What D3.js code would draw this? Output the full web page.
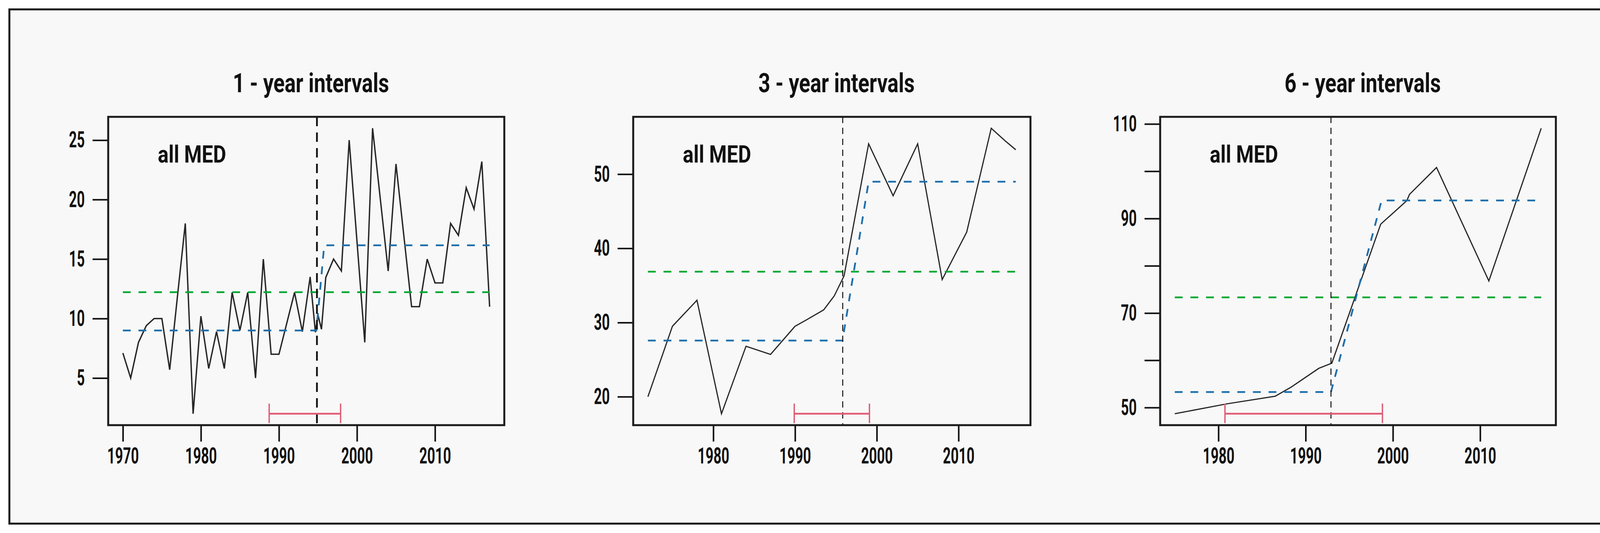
<!DOCTYPE html>
<html>
<head>
<meta charset="utf-8">
<script src="https://cdn.jsdelivr.net/npm/d3@7"></script>
<style>
  html, body { margin: 0; padding: 0; background: #fff; }
  svg text { font-family: Roboto, "DejaVu Sans", sans-serif; fill: #111; }
</style>
</head>
<body>
<div id="chart"></div>
<script>
// panel titles and the region label
const titles = ["1 - year intervals", "3 - year intervals", "6 - year intervals"];
const regionLabel = "all MED";

// 1-year series
const years1 = [1970, 1971, 1972, 1973, 1974, 1975, 1976, 1977, 1978, 1979,
                1980, 1981, 1982, 1983, 1984, 1985, 1986, 1987, 1988, 1989,
                1990, 1991, 1992, 1993, 1994, 1994.67, 1995, 1995.45, 1996, 1997,
                1998, 1999, 2000, 2001, 2002, 2003, 2004, 2005, 2006, 2007,
                2008, 2009, 2010, 2011, 2012, 2013, 2014, 2015, 2016, 2017];
const values1 = [7.1, 5.0, 8.0, 9.4, 10.0, 10.0, 5.7, 11.9, 18.0, 2.0,
                 10.2, 5.8, 8.9, 5.8, 12.2, 9.0, 12.2, 5.0, 15.0, 7.0,
                 7.0, 9.6, 12.2, 8.9, 13.5, 8.85, 10.3, 9.1, 13.45, 15.0,
                 14.0, 25.0, 16.5, 8.0, 26.0, 20.0, 14.0, 23.0, 17.0, 11.0,
                 11.0, 15.0, 13.0, 13.0, 18.0, 17.0, 21.0, 19.2, 23.2, 11.0];

// 3-year series
const years3 = [1972, 1975, 1978, 1981, 1984, 1987, 1990, 1991.3, 1993.5, 1994.8,
                1996, 1999, 2002, 2005, 2008, 2011, 2014, 2015.7, 2017];
const values3 = [20.0, 29.5, 33.0, 17.7, 26.8, 25.7, 29.5, 30.3, 31.7, 33.6,
                 36.3, 54.1, 47.1, 54.1, 35.8, 42.2, 56.2, 54.5, 53.3];

// 6-year series
const years6 = [1975, 1981, 1986.5, 1988.4, 1991.5, 1993, 1998.6, 2001.6, 2001.9, 2005, 2011, 2017];
const values6 = [48.7, 50.8, 52.4, 54.4, 58.3, 59.4, 88.8, 93.8, 95.1, 100.8, 76.8, 109.1];

// overall mean (green) per panel
const overallMean = [12.22, 36.86, 73.31];

// step-change fit (blue) per panel
const stepX = [[1970, 1994.8, 1995.8, 2017],
               [1972, 1995.8, 1999.0, 2017],
               [1975, 1992.9, 1998.7, 2017]];
const stepY = [[9.0, 9.0, 16.16, 16.16],
               [27.57, 27.57, 48.99, 48.99],
               [53.29, 53.29, 93.82, 93.82]];

// change point and its interval
const changeYear = [1994.87, 1995.83, 1992.9];
const intervalLow = [1988.75, 1989.9, 1980.75];
const intervalHigh = [1997.9, 1999.1, 1998.8];

// axis ticks
const xTicks = [[1970, 1980, 1990, 2000, 2010],
                [1980, 1990, 2000, 2010],
                [1980, 1990, 2000, 2010]];
const yTicks = [[5, 10, 15, 20, 25],
                [20, 30, 40, 50],
                [50, 60, 70, 80, 90, 100, 110]];
const yTickLabels = [[5, 10, 15, 20, 25],
                     [20, 30, 40, 50],
                     [50, 70, 90, 110]];

const W = 4120, H = 1364;
const boxLeft = [277, 1621, 2970], boxRight = [1291, 2638, 3983];
const boxTop = 299, boxBottom = 1088;
const condensed = 0.62;

const svg = d3.select("#chart").append("svg")
    .attr("width", W)
    .attr("height", H);

// outer frame
svg.append("rect")
    .attr("x", 24).attr("y", 24)
    .attr("width", 4075).attr("height", 1316)
    .attr("fill", "#f8f8f8")
    .attr("stroke", "#1a1a1a")
    .attr("stroke-width", 5);

// R style 4% padding of the data range
function pad(ext) {
    const d = (ext[1] - ext[0]) * 0.04;
    return [ext[0] - d, ext[1] + d];
}

const series = [
    { years: years1, values: values1, lw: 3.5, vw: 4.5, vdash: "24,16" },
    { years: years3, values: values3, lw: 3, vw: 2.5, vdash: "16,12" },
    { years: years6, values: values6, lw: 3, vw: 2.5, vdash: "16,12" }
];

series.forEach((s, i) => {
    const x = d3.scaleLinear().domain(pad(d3.extent(s.years))).range([boxLeft[i], boxRight[i]]);
    const y = d3.scaleLinear().domain(pad(d3.extent(s.values))).range([boxBottom, boxTop]);
    const g = svg.append("g");
    const first = s.years[0], last = s.years[s.years.length - 1];

    // data line
    const pts = s.years.map((yr, k) => [yr, s.values[k]]);
    g.append("path")
        .datum(pts)
        .attr("d", d3.line().x(d => x(d[0])).y(d => y(d[1])))
        .attr("fill", "none")
        .attr("stroke", "#262626")
        .attr("stroke-width", s.lw)
        .attr("stroke-linejoin", "miter");

    // overall mean
    g.append("line")
        .attr("x1", x(first)).attr("x2", x(last))
        .attr("y1", y(overallMean[i])).attr("y2", y(overallMean[i]))
        .attr("stroke", "#00a833")
        .attr("stroke-width", 4.5)
        .attr("stroke-dasharray", "20,20");

    // step change
    const step = stepX[i].map((v, k) => [v, stepY[i][k]]);
    g.append("path")
        .datum(step)
        .attr("d", d3.line().x(d => x(d[0])).y(d => y(d[1])))
        .attr("fill", "none")
        .attr("stroke", "#1f6fab")
        .attr("stroke-width", 4.5)
        .attr("stroke-dasharray", "20,20");

    // change point
    g.append("line")
        .attr("x1", x(changeYear[i])).attr("x2", x(changeYear[i]))
        .attr("y1", boxTop).attr("y2", boxBottom)
        .attr("stroke", "#111")
        .attr("stroke-width", s.vw)
        .attr("stroke-dasharray", s.vdash);

    // interval bar at the series minimum
    const by = y(d3.min(s.values));
    g.append("line")
        .attr("x1", x(intervalLow[i])).attr("x2", x(intervalHigh[i]))
        .attr("y1", by).attr("y2", by)
        .attr("stroke", "#e05c75")
        .attr("stroke-width", 4.5);
    [intervalLow[i], intervalHigh[i]].forEach(v => {
        g.append("line")
            .attr("x1", x(v)).attr("x2", x(v))
            .attr("y1", by - 26).attr("y2", by + 24)
            .attr("stroke", "#e05c75")
            .attr("stroke-width", 3.5);
    });

    // region label
    g.append("text")
        .attr("transform", `translate(${boxLeft[i] + 127},416) scale(0.83,1)`)
        .style("font-size", "62px")
        .style("font-weight", "700")
        .text(regionLabel);

    // x axis
    const xa = g.append("g")
        .attr("transform", `translate(0,${boxBottom})`)
        .call(d3.axisBottom(x).tickValues(xTicks[i]).tickFormat(d3.format("d"))
            .tickSize(42).tickPadding(16));
    xa.select(".domain").remove();
    xa.selectAll("line").attr("stroke", "#111").attr("stroke-width", 4);
    xa.selectAll("text")
        .attr("transform", `scale(${condensed},1)`)
        .style("font-size", "57px")
        .style("font-weight", "700")
        .style("font-family", 'Roboto, "DejaVu Sans", sans-serif');

    // y axis
    const ya = g.append("g")
        .attr("transform", `translate(${boxLeft[i]},0)`)
        .call(d3.axisLeft(y).tickValues(yTicks[i])
            .tickFormat(d => yTickLabels[i].includes(d) ? d : "")
            .tickSize(40).tickPadding(20));
    ya.select(".domain").remove();
    ya.selectAll("line").attr("stroke", "#111").attr("stroke-width", 4);
    ya.selectAll("text")
        .attr("x", -60 / condensed)
        .attr("transform", `scale(${condensed},1)`)
        .style("font-size", "57px")
        .style("font-weight", "700")
        .style("font-family", 'Roboto, "DejaVu Sans", sans-serif');

    // title
    g.append("text")
        .attr("transform", `translate(${(boxLeft[i] + boxRight[i]) / 2 + 12},236) scale(0.78,1)`)
        .attr("text-anchor", "middle")
        .style("font-size", "68px")
        .style("font-weight", "700")
        .text(titles[i]);

    // plot box
    g.append("rect")
        .attr("x", boxLeft[i]).attr("y", boxTop)
        .attr("width", boxRight[i] - boxLeft[i])
        .attr("height", boxBottom - boxTop)
        .attr("fill", "none")
        .attr("stroke", "#1a1a1a")
        .attr("stroke-width", 5);
});
</script>
</body>
</html>
